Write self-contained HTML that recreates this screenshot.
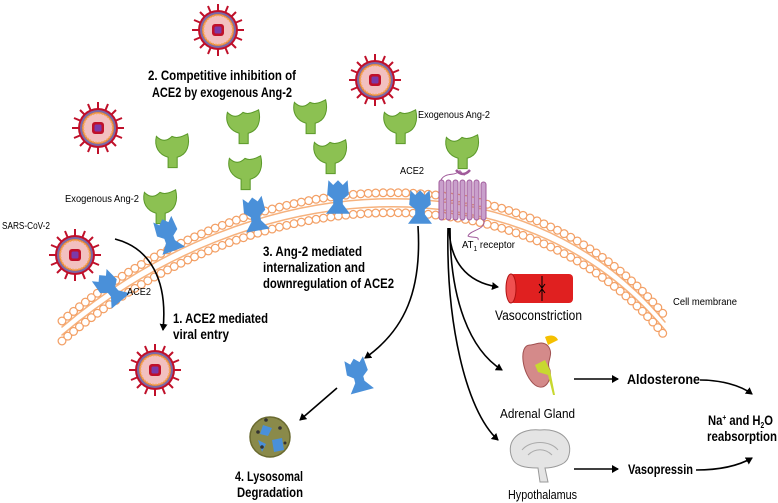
<!DOCTYPE html>
<html><head><meta charset="utf-8"><style>
body{margin:0;background:#fff}
svg{display:block;font-family:"Liberation Sans",sans-serif}
.b{font-weight:bold;font-size:13.5px}
.s{font-size:10px}
</style></head><body>
<svg width="778" height="503" viewBox="0 0 778 503" xmlns="http://www.w3.org/2000/svg">
<defs>
<marker id="ar" markerWidth="8" markerHeight="8" refX="6" refY="4" orient="auto" markerUnits="userSpaceOnUse"><path d="M0,0 L7,4 L0,8 Z" fill="#000"/></marker>
<g id="vir">
 <g stroke="#c0102a" stroke-width="2">
  <line x1="0" y1="-26" x2="0" y2="26"/><line x1="-26" y1="0" x2="26" y2="0"/>
  <line x1="-18" y1="-18" x2="18" y2="18"/><line x1="-18" y1="18" x2="18" y2="-18"/>
  <line x1="-10" y1="-24" x2="10" y2="24"/><line x1="-24" y1="-10" x2="24" y2="10"/>
  <line x1="10" y1="-24" x2="-10" y2="24"/><line x1="24" y1="-10" x2="-24" y2="10"/>
 </g>
 <circle r="20" fill="#c0102a"/>
 <circle r="18" fill="#7a6aa8"/>
 <circle r="16" fill="#e98a3a"/>
 <circle r="14.5" fill="#f2c0c0" stroke="#f5a85a" stroke-width="1.5" stroke-dasharray="1.5 1.5"/>
 <rect x="-6" y="-6" width="12" height="12" rx="3" fill="#c0102a"/>
 <rect x="-3.5" y="-3.5" width="7" height="7" rx="1.5" fill="#7a3aa8"/>
</g>
<path id="ang" d="M-12,-12 C-8,-8 -4,-8 0,-12 C4,-10 8,-12 12,-14 C14,-6 12,2 4,4 L4,12 L-3,12 L-3,4 C-10,2 -14,-4 -12,-12 Z" fill="#8cc152" stroke="#5c9a2a" stroke-width="0.8" transform="scale(1.3)"/>
<path id="ace" d="M-8,-14 L-4,-10 L0,-14 L4,-10 L8,-14 L9,-2 L4,2 L4,6 L10,14 L-10,14 L-4,6 L-4,2 L-9,-2 Z" fill="#4a90d9" transform="scale(1.2)"/>
</defs>

<!-- membrane -->
<g fill="none" stroke-linecap="round">
 <path d="M62,330 C250,170 520,150 665,325" stroke="#f6b27e" stroke-width="1.5" transform="translate(0,-3)"/>
 <path d="M62,330 C250,170 520,150 665,325" stroke="#f6b27e" stroke-width="1.5" transform="translate(0,5)"/>
 <path d="M62,330 C250,170 520,150 665,325" stroke="#f3a066" stroke-width="9" stroke-dasharray="0 7.5" transform="translate(0,-9)"/>
 <path d="M62,330 C250,170 520,150 665,325" stroke="#fff" stroke-width="6.5" stroke-dasharray="0 7.5" transform="translate(0,-9)"/>
 <path d="M62,330 C250,170 520,150 665,325" stroke="#f3a066" stroke-width="9" stroke-dasharray="0 7.5" transform="translate(0,11)"/>
 <path d="M62,330 C250,170 520,150 665,325" stroke="#fff" stroke-width="6.5" stroke-dasharray="0 7.5" transform="translate(0,11)"/>
</g>

<!-- viruses -->
<use href="#vir" x="218" y="30"/>
<use href="#vir" x="375" y="80"/>
<use href="#vir" x="98" y="128"/>
<use href="#vir" x="75" y="255"/>
<use href="#vir" x="155" y="370"/>

<!-- free Ang-2 -->
<use href="#ang" x="172" y="152"/>
<use href="#ang" x="243" y="128"/>
<use href="#ang" x="310" y="118"/>
<use href="#ang" x="400" y="128"/>
<!-- bound -->
<use href="#ang" x="160" y="208"/>
<use href="#ang" x="245" y="174"/>
<use href="#ang" x="330" y="158"/>
<use href="#ang" x="462" y="153"/>

<!-- ACE2 -->
<use href="#ace" x="168" y="235" transform="rotate(-20 168 235)"/>
<use href="#ace" x="255" y="214" transform="rotate(-10 255 214)"/>
<use href="#ace" x="338" y="197"/>
<use href="#ace" x="420" y="207"/>
<use href="#ace" x="110" y="288" transform="rotate(-40 110 288)"/>
<use href="#ace" x="358" y="375" transform="rotate(-15 358 375)"/>

<!-- AT1 receptor -->
<g stroke="#a05a9a" fill="#c9a0cc" stroke-width="1">
 <rect x="439" y="180" width="5" height="40" rx="2.5"/><rect x="446" y="180" width="5" height="40" rx="2.5"/>
 <rect x="453" y="180" width="5" height="40" rx="2.5"/><rect x="460" y="180" width="5" height="40" rx="2.5"/>
 <rect x="467" y="180" width="5" height="40" rx="2.5"/><rect x="474" y="180" width="5" height="40" rx="2.5"/>
 <rect x="481" y="182" width="5" height="38" rx="2.5"/>
 <path d="M441,180 C445,172 455,176 458,172 C462,168 460,175 465,175" fill="none"/>
 <path d="M456,170 Q463,178 470,170" fill="none" stroke-width="2.5"/>
 <path d="M484,220 C486,230 470,230 468,236 C470,238 480,236 478,240" fill="none"/>
</g>

<!-- arrows -->
<g fill="none" stroke="#000" stroke-width="1.6" marker-end="url(#ar)">
 <path d="M115,239 C150,248 168,280 163,330"/>
 <path d="M418,226 C422,290 405,330 365,358"/>
 <path d="M337,388 L300,420"/>
 <path d="M449,228 C450,260 465,282 498,287"/>
 <path d="M450,228 C450,300 470,350 502,370"/>
 <path d="M448,228 C446,320 465,410 498,440"/>
 <path d="M574,379 L618,379"/>
 <path d="M574,469 L618,469"/>
 <path d="M700,380 C720,380 740,385 752,394"/>
 <path d="M696,470 C720,470 738,466 752,458"/>
</g>

<!-- lysosome -->
<circle cx="270" cy="437" r="20" fill="#8a8a4a" stroke="#6a6a30" stroke-width="1.5"/>
<path d="M263,425 L272,428 L268,436 L260,434 Z M272,440 L282,438 L284,450 L274,452 Z M258,440 L266,444 L262,452 Z" fill="#4a90d9"/>
<g fill="#333"><circle cx="266" cy="420" r="1.8"/><circle cx="258" cy="432" r="1.8"/><circle cx="280" cy="428" r="1.8"/><circle cx="262" cy="447" r="1.8"/><circle cx="285" cy="443" r="1.5"/></g>

<!-- blood vessel -->
<rect x="510" y="274" width="63" height="29" rx="4" fill="#e02020"/>
<ellipse cx="511" cy="288.5" rx="5" ry="14.5" fill="#f05050" stroke="#b01010"/>
<line x1="542" y1="276" x2="542" y2="301" stroke="#000"/>
<path d="M539,284 L542,288 L545,284 M539,293 L542,289 L545,293" fill="none" stroke="#000"/>

<!-- kidney/adrenal -->
<path d="M530,345 C518,345 522,375 535,385 C545,392 552,380 550,370 C545,362 555,355 548,346 C542,340 535,345 530,345 Z" fill="#d48a8a" stroke="#a05050"/>
<path d="M545,337 C552,334 556,336 558,340 L548,345 Z" fill="#f5c000"/>
<path d="M535,365 L545,360 L550,370 L555,395 L553,395 L548,375 L538,372 Z" fill="#c8d830"/>

<!-- brain -->
<path d="M512,458 C505,440 520,428 540,430 C560,428 575,440 568,458 C565,466 550,468 545,468 L548,482 L540,482 L538,468 C525,468 515,466 512,458 Z" fill="#e4e4e4" stroke="#999"/>
<path d="M522,450 C530,440 550,440 558,450 M528,455 C535,448 545,448 552,455" fill="none" stroke="#aaa"/>

<!-- text -->
<text x="148" y="80" class="b" textLength="148" lengthAdjust="spacingAndGlyphs">2. Competitive inhibition of</text>
<text x="152" y="97" class="b" textLength="140" lengthAdjust="spacingAndGlyphs">ACE2 by exogenous Ang-2</text>
<text x="65" y="202" class="s" textLength="74" lengthAdjust="spacingAndGlyphs">Exogenous Ang-2</text>
<text x="2" y="229" class="s" textLength="48" lengthAdjust="spacingAndGlyphs">SARS-CoV-2</text>
<text x="127" y="295" class="s" textLength="24" lengthAdjust="spacingAndGlyphs">ACE2</text>
<text x="418" y="118" class="s" textLength="72" lengthAdjust="spacingAndGlyphs">Exogenous Ang-2</text>
<text x="400" y="174" class="s" textLength="24" lengthAdjust="spacingAndGlyphs">ACE2</text>
<text x="462" y="248" class="s" textLength="53" lengthAdjust="spacingAndGlyphs">AT<tspan font-size="7" dy="3">1</tspan><tspan dy="-3"> receptor</tspan></text>
<text x="673" y="305" class="s" textLength="64" lengthAdjust="spacingAndGlyphs">Cell membrane</text>
<text x="263" y="256" class="b" textLength="99" lengthAdjust="spacingAndGlyphs">3. Ang-2 mediated</text>
<text x="263" y="272" class="b" textLength="102" lengthAdjust="spacingAndGlyphs">internalization and</text>
<text x="263" y="288" class="b" textLength="131" lengthAdjust="spacingAndGlyphs">downregulation of ACE2</text>
<text x="173" y="323" class="b" textLength="95" lengthAdjust="spacingAndGlyphs">1. ACE2 mediated</text>
<text x="173" y="339" class="b" textLength="56" lengthAdjust="spacingAndGlyphs">viral entry</text>
<text x="235" y="481" class="b" textLength="68" lengthAdjust="spacingAndGlyphs">4. Lysosomal</text>
<text x="237" y="497" class="b" textLength="66" lengthAdjust="spacingAndGlyphs">Degradation</text>
<text x="495" y="320" font-size="13.5" textLength="87" lengthAdjust="spacingAndGlyphs">Vasoconstriction</text>
<text x="500" y="418" font-size="13" textLength="75" lengthAdjust="spacingAndGlyphs">Adrenal Gland</text>
<text x="508" y="499" font-size="13" textLength="69" lengthAdjust="spacingAndGlyphs">Hypothalamus</text>
<text x="627" y="384" class="b" textLength="73" lengthAdjust="spacingAndGlyphs">Aldosterone</text>
<text x="628" y="474" class="b" textLength="65" lengthAdjust="spacingAndGlyphs">Vasopressin</text>
<text x="708" y="425" class="b" textLength="65" lengthAdjust="spacingAndGlyphs">Na<tspan font-size="8" dy="-5">+</tspan><tspan dy="5"> and H</tspan><tspan font-size="8" dy="3">2</tspan><tspan dy="-3">O</tspan></text>
<text x="707" y="441" class="b" textLength="70" lengthAdjust="spacingAndGlyphs">reabsorption</text>
</svg>
</body></html>
